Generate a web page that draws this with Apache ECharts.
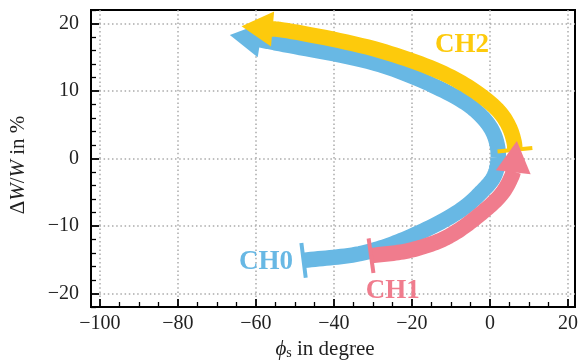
<!DOCTYPE html>
<html>
<head>
<meta charset="utf-8">
<script src="https://cdn.jsdelivr.net/npm/echarts@6/dist/echarts.min.js"></script>
<style>
  html, body { margin: 0; padding: 0; background: #fff; }
  #chart { width: 578px; height: 363px; }
</style>
</head>
<body>
<div id="chart"></div>
<script>
// Axis extents and tick labels
const xRange = [-102.3, 21.8];
const yRange = [-22, 22];
const xTicks = [-100, -80, -60, -40, -20, 0, 20];
const yTicks = [-20, -10, 0, 10, 20];

// CH0 sweep: path from tail to the base of the arrow head, then the head tip
const ch0Phi = [-47.8, -32.6, -20.5, -7.4, -2.3, 1.0, 2.1, 1.7, 0.0, -4.1, -11.0, -28.2, -53.8, -59.1];
const ch0Dw  = [-15.1, -14.0, -11.6, -7.6, -5.0, -2.7, -0.1, 2.4, 4.7, 7.3, 9.8, 13.9, 17.0, 17.6];
const ch0Tip = [-66.7, 18.3];

// CH1 sweep
const ch1Phi = [-30.5, -20.5, -11.1, -2.6, 3.2, 5.6, 6.0];
const ch1Dw  = [-14.4, -13.6, -11.7, -8.3, -5.1, -2.6, -1.9];
const ch1Tip = [6.9, 2.6];

// CH2 sweep
const ch2Phi = [6.4, 6.2, 4.9, 1.8, -8.8, -28.2, -53.8, -56.0];
const ch2Dw  = [1.3, 2.4, 4.7, 7.3, 11.7, 16.0, 19.1, 19.2];
const ch2Tip = [-63.7, 19.6];

// Channel labels
const labelNames = ['CH0', 'CH1', 'CH2'];
const labelPhi = [-57.4, -24.9, -7.2];
const labelDw  = [-15.4, -19.7, 16.8];

const colors = { CH0: '#68b8e4', CH1: '#f07c8d', CH2: '#fdca0c' };
const SERIF = "'Liberation Serif', 'DejaVu Serif', serif";
const BODY_WIDTH = 15.5;
const HEAD_HALF = 17.5;
const BAR_HALF = 17.5;

// minor tick positions between the labelled ticks
function minorBetween(ticks, step, lo, hi) {
  const out = [];
  for (let v = Math.ceil(lo / step) * step; v <= hi; v += step) {
    const r = Math.round(v * 100) / 100;
    if (ticks.indexOf(r) < 0) out.push(r);
  }
  return out;
}
const xMinor = minorBetween(xTicks, 5, xRange[0], xRange[1]);
const yMinor = minorBetween(yTicks, 2, yRange[0], yRange[1]);

const fmt = v => (v < 0 ? '\u2212' + Math.abs(v) : String(v));

// Centripetal Catmull-Rom through pixel points, returned as a dense polyline
function splinePoints(pts) {
  const n = pts.length;
  const ext = [
    [2 * pts[0][0] - pts[1][0], 2 * pts[0][1] - pts[1][1]],
    ...pts,
    [2 * pts[n - 1][0] - pts[n - 2][0], 2 * pts[n - 1][1] - pts[n - 2][1]]
  ];
  const dist = (a, b) => Math.pow(Math.hypot(b[0] - a[0], b[1] - a[1]), 0.5) || 1e-6;
  const out = [pts[0]];
  let firstCtrl = null;
  for (let i = 1; i < ext.length - 2; i++) {
    const p0 = ext[i - 1], p1 = ext[i], p2 = ext[i + 1], p3 = ext[i + 2];
    const d1 = dist(p0, p1), d2 = dist(p1, p2), d3 = dist(p2, p3);
    const b1 = [0, 1].map(k => (d1 * d1 * p2[k] - d2 * d2 * p0[k] + (2 * d1 * d1 + 3 * d1 * d2 + d2 * d2) * p1[k]) / (3 * d1 * (d1 + d2)));
    const b2 = [0, 1].map(k => (d3 * d3 * p1[k] - d2 * d2 * p3[k] + (2 * d3 * d3 + 3 * d3 * d2 + d2 * d2) * p2[k]) / (3 * d3 * (d3 + d2)));
    if (!firstCtrl) firstCtrl = b1;
    const steps = 16;
    for (let s = 1; s <= steps; s++) {
      const t = s / steps, u = 1 - t;
      out.push([0, 1].map(k => u * u * u * p1[k] + 3 * u * u * t * b1[k] + 3 * u * t * t * b2[k] + t * t * t * p2[k]));
    }
  }
  return { line: out, startCtrl: firstCtrl };
}

function sweepSeries(phi, dw, tip, color) {
  return {
    type: 'custom',
    coordinateSystem: 'cartesian2d',
    clip: false,
    silent: true,
    data: [[tip[0], tip[1]]],
    renderItem: function (params, api) {
      const pts = phi.map((p, i) => api.coord([p, dw[i]]));
      const spline = splinePoints(pts);
      const n = pts.length;
      const t = api.coord([api.value(0), api.value(1)]);
      const b = pts[n - 1];
      const L = Math.hypot(t[0] - b[0], t[1] - b[1]);
      const ux = (t[0] - b[0]) / L, uy = (t[1] - b[1]) / L;
      const px = -uy, py = ux;
      const bb = [b[0] - ux, b[1] - uy];
      const head = [
        [t[0], t[1]],
        [bb[0] + px * HEAD_HALF, bb[1] + py * HEAD_HALF],
        [bb[0] - px * HEAD_HALF, bb[1] - py * HEAD_HALF]
      ];
      const s = pts[0];
      const c = spline.startCtrl;
      const M = Math.hypot(c[0] - s[0], c[1] - s[1]);
      const qx = -(c[1] - s[1]) / M, qy = (c[0] - s[0]) / M;
      return {
        type: 'group',
        children: [
          {
            type: 'polyline',
            shape: { points: spline.line },
            style: { stroke: color, lineWidth: BODY_WIDTH, fill: null, lineCap: 'butt', lineJoin: 'round' }
          },
          { type: 'polygon', shape: { points: head }, style: { fill: color } },
          {
            type: 'line',
            shape: {
              x1: s[0] + qx * BAR_HALF, y1: s[1] + qy * BAR_HALF,
              x2: s[0] - qx * BAR_HALF, y2: s[1] - qy * BAR_HALF
            },
            style: { stroke: color, lineWidth: 4 }
          }
        ]
      };
    }
  };
}

const labelSeries = {
  type: 'custom',
  coordinateSystem: 'cartesian2d',
  clip: false,
  silent: true,
  data: labelPhi.map((p, i) => [p, labelDw[i]]),
  renderItem: function (params, api) {
    const c = api.coord([api.value(0), api.value(1)]);
    const name = labelNames[params.dataIndex];
    return {
      type: 'text',
      x: c[0], y: c[1],
      style: {
        text: name,
        fill: colors[name],
        fontFamily: SERIF,
        fontWeight: 'bold',
        fontSize: 27,
        align: 'center',
        verticalAlign: 'middle'
      }
    };
  }
};

const nameRich = {
  r: { fontFamily: SERIF, fontSize: 21, color: '#222' },
  i: { fontFamily: SERIF, fontSize: 21, fontStyle: 'italic', color: '#222' },
  s: { fontFamily: SERIF, fontSize: 14, color: '#222', verticalAlign: 'bottom' }
};

const chart = echarts.init(document.getElementById('chart'), null, { renderer: 'canvas' });
chart.setOption({
  animation: false,
  backgroundColor: '#fff',
  grid: {
    left: 91, right: 3, top: 10, bottom: 56,
    show: true, borderColor: '#000', borderWidth: 2,
    backgroundColor: 'transparent',
    containLabel: false,
    outerBoundsMode: 'none'
  },
  xAxis: [
    {
      type: 'value', min: xRange[0], max: xRange[1], position: 'bottom',
      axisLine: { onZero: false, lineStyle: { color: '#000', width: 2 } },
      axisTick: { inside: true, length: 8, customValues: xTicks, lineStyle: { color: '#000', width: 1.8 } },
      axisLabel: { customValues: xTicks, formatter: fmt, color: '#222', fontFamily: SERIF, fontSize: 20, margin: 7 },
      splitLine: { show: true, lineStyle: { color: '#ababab', width: 1.5, type: [1.5, 2.7] } },
      name: '{i|\u03d5}{s|s}{r| in degree}',
      nameLocation: 'middle', nameGap: 31,
      nameTextStyle: { rich: nameRich, padding: [0, 16, 0, 0] }
    },
    {
      type: 'value', min: xRange[0], max: xRange[1], position: 'bottom',
      axisLine: { show: false, onZero: false },
      axisTick: { inside: true, length: 5, customValues: xMinor, lineStyle: { color: '#000', width: 1.3 } },
      axisLabel: { show: false },
      splitLine: { show: false }
    }
  ],
  yAxis: [
    {
      type: 'value', min: yRange[0], max: yRange[1], position: 'left',
      axisLine: { onZero: false, lineStyle: { color: '#000', width: 2 } },
      axisTick: { inside: true, length: 8, customValues: yTicks, lineStyle: { color: '#000', width: 1.8 } },
      axisLabel: { customValues: yTicks, formatter: fmt, color: '#222', fontFamily: SERIF, fontSize: 20, margin: 12 },
      splitLine: { show: true, lineStyle: { color: '#ababab', width: 1.5, type: [1.5, 2.7] } },
      name: '{r|\u0394}{i|W}{r|/}{i|W}{r| in %}',
      nameLocation: 'middle', nameGap: 62,
      nameTextStyle: { rich: nameRich, padding: [0, 13, 0, 0] }
    },
    {
      type: 'value', min: yRange[0], max: yRange[1], position: 'left',
      axisLine: { show: false, onZero: false },
      axisTick: { inside: true, length: 5, customValues: yMinor, lineStyle: { color: '#000', width: 1.3 } },
      axisLabel: { show: false },
      splitLine: { show: false }
    }
  ],
  series: [
    sweepSeries(ch0Phi, ch0Dw, ch0Tip, colors.CH0),
    sweepSeries(ch2Phi, ch2Dw, ch2Tip, colors.CH2),
    sweepSeries(ch1Phi, ch1Dw, ch1Tip, colors.CH1),
    labelSeries
  ]
});
</script>
</body>
</html>
